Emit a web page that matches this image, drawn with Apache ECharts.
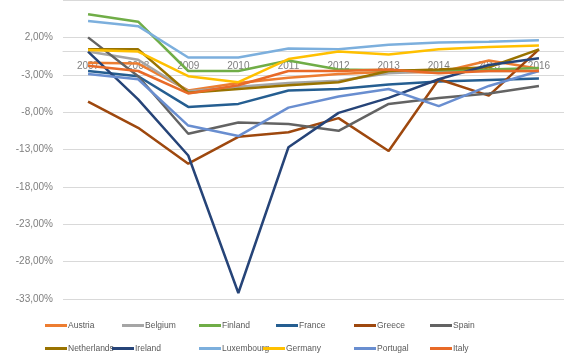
<html>
<head>
<meta http-equiv="Content-Type" content="text/html; charset=UTF-8">
<script type="text/javascript" src="https://cdn.jsdelivr.net/npm/echarts@6/dist/echarts.min.js"></script>
<style>
html,body{margin:0;padding:0;background:#fff;}
#chart{width:564px;height:356px;}
</style>
</head>
<body>
<div id="chart"></div>
<script type="text/javascript">
var years = ['2007','2008','2009','2010','2011','2012','2013','2014','2015','2016'];

var austria     = [-1.4, -1.5, -5.1, -4.1, -3.4, -2.9, -2.6, -2.7, -1.1, -2.2];
var belgium     = [ 0.1, -1.0, -5.2, -4.6, -4.1, -3.8, -2.8, -2.5, -2.5, -2.5];
var finland     = [ 5.1,  4.1, -2.5, -2.5, -1.1, -2.3, -2.4, -2.4, -2.3, -2.1];
var france      = [-2.5, -3.2, -7.3, -6.9, -5.1, -4.9, -4.3, -3.9, -3.7, -3.5];
var greece      = [-6.6,-10.1,-14.9,-11.3,-10.7, -8.8,-13.2, -3.6, -5.8,  0.4];
var spain       = [ 2.0, -3.2,-10.9, -9.4, -9.6,-10.5, -6.9, -6.1, -5.5, -4.5];
var netherlands = [ 0.4,  0.4, -5.4, -4.9, -4.4, -4.0, -2.5, -2.3, -2.0,  0.4];
var ireland     = [ 0.1, -6.3,-13.8,-32.2,-12.7, -8.1, -6.1, -3.6, -1.7, -0.8];
var luxembourg  = [ 4.2,  3.5, -0.7, -0.7,  0.5,  0.4,  1.0,  1.3,  1.4,  1.6];
var germany     = [ 0.3,  0.1, -3.2, -4.0, -0.9,  0.1, -0.3,  0.4,  0.7,  0.9];
var portugal    = [-2.9, -3.6, -9.8,-11.2, -7.4, -5.9, -4.9, -7.2, -4.5, -2.5];
var italy       = [-1.8, -2.5, -5.5, -4.4, -2.5, -2.5, -2.3, -2.8, -2.5, -2.5];

var yTicks = [-33, -28, -23, -18, -13, -8, -3, 2];

var names = ['Austria','Belgium','Finland','France','Greece','Spain',
             'Netherlands','Ireland','Luxembourg','Germany','Portugal','Italy'];
var values = [austria, belgium, finland, france, greece, spain,
              netherlands, ireland, luxembourg, germany, portugal, italy];
var colors = ['#ED7D31','#A5A5A5','#70AD47','#255E91','#9E480E','#636363',
              '#997300','#264478','#7CAFDD','#FFC000','#698ED0','#E86A28'];

// legend is laid out in excel-like columns, second row shifted by long names
var legendLeft = [45,122,199,276,354,430, 45,112,199,263,354,430];
var legendTop = [321,321,321,321,321,321, 344,344,344,344,344,344];

var series = [];
var legends = [];
for (var i = 0; i < names.length; i++) {
  series.push({
    name: names[i],
    type: 'line',
    data: values[i],
    symbol: 'none',
    lineStyle: {width: 2.5, color: colors[i]},
    itemStyle: {color: colors[i]},
    z: 2
  });
  legends.push({
    data: [names[i]],
    left: legendLeft[i],
    top: legendTop[i],
    icon: 'rect',
    itemWidth: 22,
    itemHeight: 3,
    itemGap: 2,
    padding: 0,
    textStyle: {
      color: '#595959',
      fontSize: 8.5,
      padding: [0, 0, 0, -4],
      fontFamily: '"Liberation Sans",sans-serif'
    }
  });
}

var myChart = echarts.init(document.getElementById('chart'));
myChart.setOption({
  animation: false,
  backgroundColor: '#fff',
  legend: legends,
  grid: {left: 63, right: -4, top: -1.6, bottom: 57, containLabel: false},
  xAxis: {
    type: 'category',
    data: years,
    boundaryGap: true,
    position: 'bottom',
    offset: -248,
    axisLine: {onZero: false, lineStyle: {color: '#D9D9D9', width: 1}},
    axisTick: {show: false},
    axisLabel: {color: '#7f7f7f', fontSize: 10, margin: 10,
      fontFamily: '"Liberation Sans",sans-serif'},
    z: 1
  },
  yAxis: {
    type: 'value',
    min: -33,
    max: 7,
    interval: 5,
    axisLine: {show: false},
    axisTick: {show: false},
    splitLine: {lineStyle: {color: '#D9D9D9', width: 1}},
    axisLabel: {
      color: '#7f7f7f', fontSize: 10, margin: 10, showMaxLabel: false,
      fontFamily: '"Liberation Sans",sans-serif',
      formatter: function (v) {
        if (yTicks.indexOf(v) < 0) return '';
        return v.toFixed(2).replace('.', ',') + '%';
      }
    }
  },
  series: series
});
</script>
</body>
</html>
